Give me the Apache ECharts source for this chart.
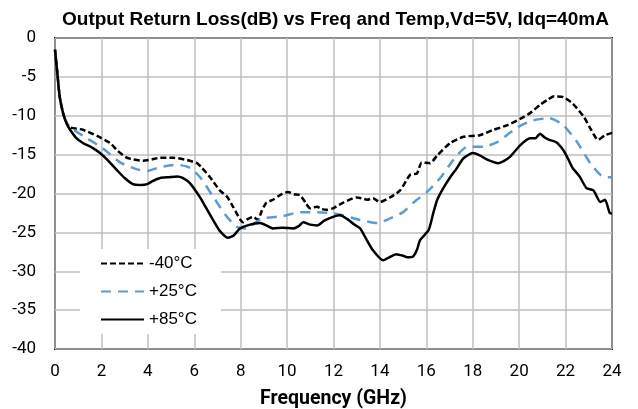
<!DOCTYPE html>
<html>
<head>
<meta charset="utf-8">
<script src="https://cdn.jsdelivr.net/npm/echarts@6/dist/echarts.min.js"></script>
<style>
  html, body { margin: 0; padding: 0; background: #fff; }
  #chart-container { width: 638px; height: 409px; }
</style>
</head>
<body>
<div id="chart-container"></div>
<script>
// Output return loss (dB), [GHz, dB]
var minus40 = [
  [0, -1.5], [0.1, -4.5], [0.2, -7.5], [0.35, -9.7], [0.5, -10.9], [0.65, -11.5], [1.2, -11.8],
  [1.81, -12.6], [2.37, -13.5], [2.7, -14.5], [3.1, -15.4], [3.8, -15.8], [4.2, -15.6], [4.53, -15.4],
  [5.1, -15.4], [5.69, -15.7], [6.12, -16.1], [6.3, -16.6], [6.68, -17.9], [7.1, -19.6], [7.41, -20.4],
  [7.67, -21.7], [8.1, -23.7], [8.3, -23.3], [8.53, -23.0], [8.75, -23.4], [8.9, -22.3], [9.1, -21.2],
  [9.4, -20.8], [9.7, -20.2], [10.04, -19.8], [10.3, -20.1], [10.56, -20.2], [10.8, -21.2], [10.99, -21.9],
  [11.29, -21.7], [11.5, -22.0], [11.72, -22.1], [11.98, -21.9], [12.4, -21.2], [13.0, -20.5], [13.2, -20.6],
  [13.45, -20.8], [13.7, -20.6], [14.0, -21.1], [14.44, -20.5], [14.87, -19.6], [15.3, -17.6], [15.6, -17.4],
  [15.8, -16.0], [16.16, -16.1], [16.47, -15.1], [17.03, -13.5], [17.6, -12.7], [18.3, -12.5], [18.9, -11.8],
  [19.5, -11.2], [20.04, -10.4], [20.5, -9.6], [20.9, -8.6], [21.2, -8.0], [21.5, -7.5], [21.9, -7.6],
  [22.3, -8.4], [22.8, -10.2], [23.1, -11.8], [23.4, -13.1], [23.7, -12.5], [24, -12.2]
];
var plus25 = [
  [0, -1.5], [0.1, -4.5], [0.2, -7.5], [0.35, -9.7], [0.5, -10.9], [0.65, -11.5], [1.38, -12.9],
  [2.07, -14.2], [2.8, -16.0], [3.53, -16.9], [3.97, -17.1], [4.53, -16.6], [5.26, -16.3], [5.82, -16.7],
  [6.25, -17.9], [6.77, -20.2], [7.1, -21.7], [7.41, -23.0], [7.84, -24.3], [8.28, -24.5], [8.6, -23.8],
  [8.97, -23.2], [9.83, -22.9], [10.56, -22.4], [11.3, -22.4], [11.85, -22.5], [12.4, -22.8], [13.15, -23.4],
  [13.9, -23.8], [14.44, -23.2], [15.0, -22.4], [15.43, -21.2], [16.03, -19.8], [16.6, -18.0], [17.16, -15.7],
  [17.76, -14.0], [18.45, -14.0], [19.05, -13.4], [19.6, -12.2], [20.04, -11.3], [20.6, -10.6], [21.3, -10.3],
  [21.9, -11.2], [22.5, -13.4], [23.06, -16.1], [23.5, -17.6], [23.8, -17.9], [24, -17.9]
];
var plus85 = [
  [0, -1.5], [0.1, -4.5], [0.2, -7.5], [0.35, -9.7], [0.5, -11.0], [0.65, -11.8], [0.9, -12.8], [1.2, -13.5],
  [1.6, -14.1], [1.94, -14.8], [2.3, -15.8], [2.67, -17.0], [3.0, -18.0], [3.36, -18.8], [3.7, -18.9],
  [3.97, -18.8], [4.2, -18.4], [4.53, -18.0], [4.9, -17.9], [5.26, -17.8], [5.5, -18.0], [5.82, -18.7],
  [6.25, -20.5], [6.5, -21.8], [6.81, -23.4], [7.1, -24.8], [7.46, -25.7], [7.7, -25.4], [7.97, -24.5],
  [8.3, -24.1], [8.84, -23.8], [9.1, -24.1], [9.4, -24.5], [9.8, -24.4], [10.26, -24.5], [10.5, -24.2],
  [10.69, -23.7], [11.0, -24.0], [11.3, -24.1], [11.6, -23.5], [11.98, -23.0], [12.28, -22.8], [12.6, -23.3],
  [12.9, -24.0], [13.15, -24.5], [13.4, -25.8], [13.7, -27.3], [14.14, -28.6], [14.4, -28.2], [14.7, -27.8],
  [15.0, -28.0], [15.17, -28.2], [15.43, -28.1], [15.6, -27.2], [15.73, -26.0], [16.1, -24.7], [16.3, -22.5],
  [16.47, -20.8], [16.75, -19.2], [17.03, -17.9], [17.3, -16.8], [17.59, -15.5], [18.0, -14.8], [18.3, -15.1],
  [18.6, -15.6], [19.1, -16.1], [19.35, -15.8], [19.6, -15.3], [20.04, -13.8], [20.47, -12.9], [20.7, -12.9],
  [20.9, -12.3], [21.1, -12.8], [21.3, -13.1], [21.6, -13.4], [21.9, -14.4], [22.1, -15.5], [22.3, -16.7],
  [22.6, -17.8], [22.9, -19.3], [23.2, -19.6], [23.5, -21.1], [23.7, -20.8], [23.9, -22.5], [24, -22.6]
];
var seriesNames = ['-40°C', '+25°C', '+85°C'];

var dom = document.getElementById('chart-container');
var myChart = echarts.init(dom, null, { renderer: 'canvas' });

var font = 'Roboto, "Liberation Sans", sans-serif';

var option = {
  animation: false,
  backgroundColor: '#fff',
  title: {
    text: 'Output Return Loss(dB) vs Freq and Temp,Vd=5V, Idq=40mA',
    left: 57,
    top: 5,
    textStyle: { fontFamily: '"Liberation Sans", Arial, sans-serif', fontSize: 19, fontWeight: 'bold', color: '#000' }
  },
  legend: {
    data: seriesNames,
    orient: 'vertical',
    left: 80,
    top: 249,
    itemWidth: 43,
    itemHeight: 14,
    itemGap: 11,
    backgroundColor: '#fff',
    padding: [6, 24, 6, 20],
    itemStyle: { opacity: 0 },
    textStyle: { fontFamily: '"Liberation Sans", Arial, sans-serif', fontSize: 17, color: '#000' }
  },
  grid: {
    left: 55, right: 26, top: 38, bottom: 60,
    outerBoundsMode: 'none',
    show: true, borderColor: '#000', borderWidth: 2
  },
  xAxis: {
    type: 'value',
    min: 0, max: 24, interval: 2,
    name: 'Frequency (GHz)',
    nameLocation: 'middle',
    nameGap: 40,
    nameTextStyle: { fontFamily: font, fontSize: 19.5, fontWeight: 'bold', color: '#000' },
    axisLine: { show: false },
    axisTick: { show: false },
    axisLabel: { fontFamily: font, fontSize: 17, color: '#000', margin: 14 },
    splitLine: { lineStyle: { color: '#bfbfbf', width: 1.5 } }
  },
  yAxis: {
    type: 'value',
    min: -40, max: 0, interval: 5,
    axisLine: { show: false },
    axisTick: { show: false },
    axisLabel: { fontFamily: font, fontSize: 17, color: '#000', margin: 19 },
    splitLine: { lineStyle: { color: '#bfbfbf', width: 1.5 } }
  },
  series: [
    {
      name: seriesNames[0], type: 'line', symbol: 'none', smooth: 0.2,
      lineStyle: { color: '#000', width: 2.5, type: [6, 3] },
      itemStyle: { color: '#000' },
      data: minus40
    },
    {
      name: seriesNames[1], type: 'line', symbol: 'none', smooth: 0.2,
      lineStyle: { color: '#5b9bd5', width: 2.5, type: [10, 7] },
      itemStyle: { color: '#5b9bd5' },
      data: plus25
    },
    {
      name: seriesNames[2], type: 'line', symbol: 'none', smooth: 0.2,
      lineStyle: { color: '#000', width: 2.5 },
      itemStyle: { color: '#000' },
      data: plus85
    }
  ]
};

myChart.setOption(option);
window.addEventListener('resize', myChart.resize);
</script>
</body>
</html>
